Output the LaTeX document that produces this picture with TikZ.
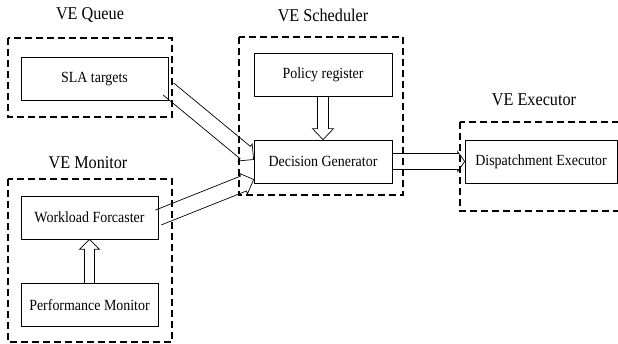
\documentclass[tikz,border=0pt]{standalone}
\usepackage{fontspec}
\setmainfont[FakeStretch=0.9]{Liberation Serif}
\usetikzlibrary{calc, positioning}

\tikzset{
    block/.style={draw, line width=0.7pt, minimum height=43pt, inner sep=0pt,
        font=\fontsize{15.5}{17}\selectfont},
    title/.style={font=\fontsize{18}{20}\selectfont},
    group/.style={line width=1.6pt, dash pattern=on 7pt off 4pt},
    fat/.style={line width=0.7pt, line join=miter}
}

% hollow block arrow: from, to, half shaft, half head, head length
\newcommand{\hollowarrow}[5]{%
    \coordinate (neck) at ($(#2)!#5!(#1)$);
    \draw[fat] ($(#1)!#3!90:(#2)$) -- ($(neck)!#3!90:(#2)$)
        -- ($(neck)!#4!90:(#2)$) -- (#2) -- ($(neck)!#4!-90:(#2)$)
        -- ($(neck)!#3!-90:(#2)$) -- ($(#1)!#3!-90:(#2)$);
}

\begin{document}
\begin{tikzpicture}[x=1pt, y=-1pt]
        \useasboundingbox (0,0) rectangle (618,344);

        % dashed groups
        \draw[group] (8,38) rectangle (172,117);
        \draw[group] (239,37) rectangle (403,195);
        \draw[group] (8,179) rectangle (172,342);
        \draw[group] (460,122) rectangle (632,211);

        \node[title] (tq) at (90,15) {VE Queue};
        \node[title] (ts) at (323,15) {VE Scheduler};
        \node[title] (tm) at (88,163) {VE Monitor};
        \node[title] (te) at (534,100) {VE Executor};

        % blocks
        \node[block, minimum width=147pt] (sla) at (94.5,79) {SLA targets};
        \node[block, minimum width=138pt] (pol) at (323,75) {Policy register};
        \node[block, minimum width=138pt] (dec) at (323,161.5) {Decision Generator};
        \node[block, minimum width=137pt] (wl) at (89.5,217.5) {Workload Forcaster};
        \node[block, minimum width=137pt] (pm) at (89.5,305) {Performance Monitor};
        \node[block, minimum width=152pt] (disp) at (541,161.5) {Dispatchment Executor};

        % arrows
        \hollowarrow{pm.north}{wl.south}{5pt}{10pt}{10pt}
        \hollowarrow{pol.south}{dec.north}{5.5pt}{10.5pt}{11pt}
        \hollowarrow{dec.east}{disp.west}{8pt}{10pt}{7pt}
        \hollowarrow{$(sla.east)+(0,10)$}{$(dec.west)+(0,-2)$}{8pt}{11pt}{11pt}
        \hollowarrow{wl.east}{$(dec.west)+(0,18)$}{8pt}{11pt}{11pt}
\end{tikzpicture}
\end{document}
